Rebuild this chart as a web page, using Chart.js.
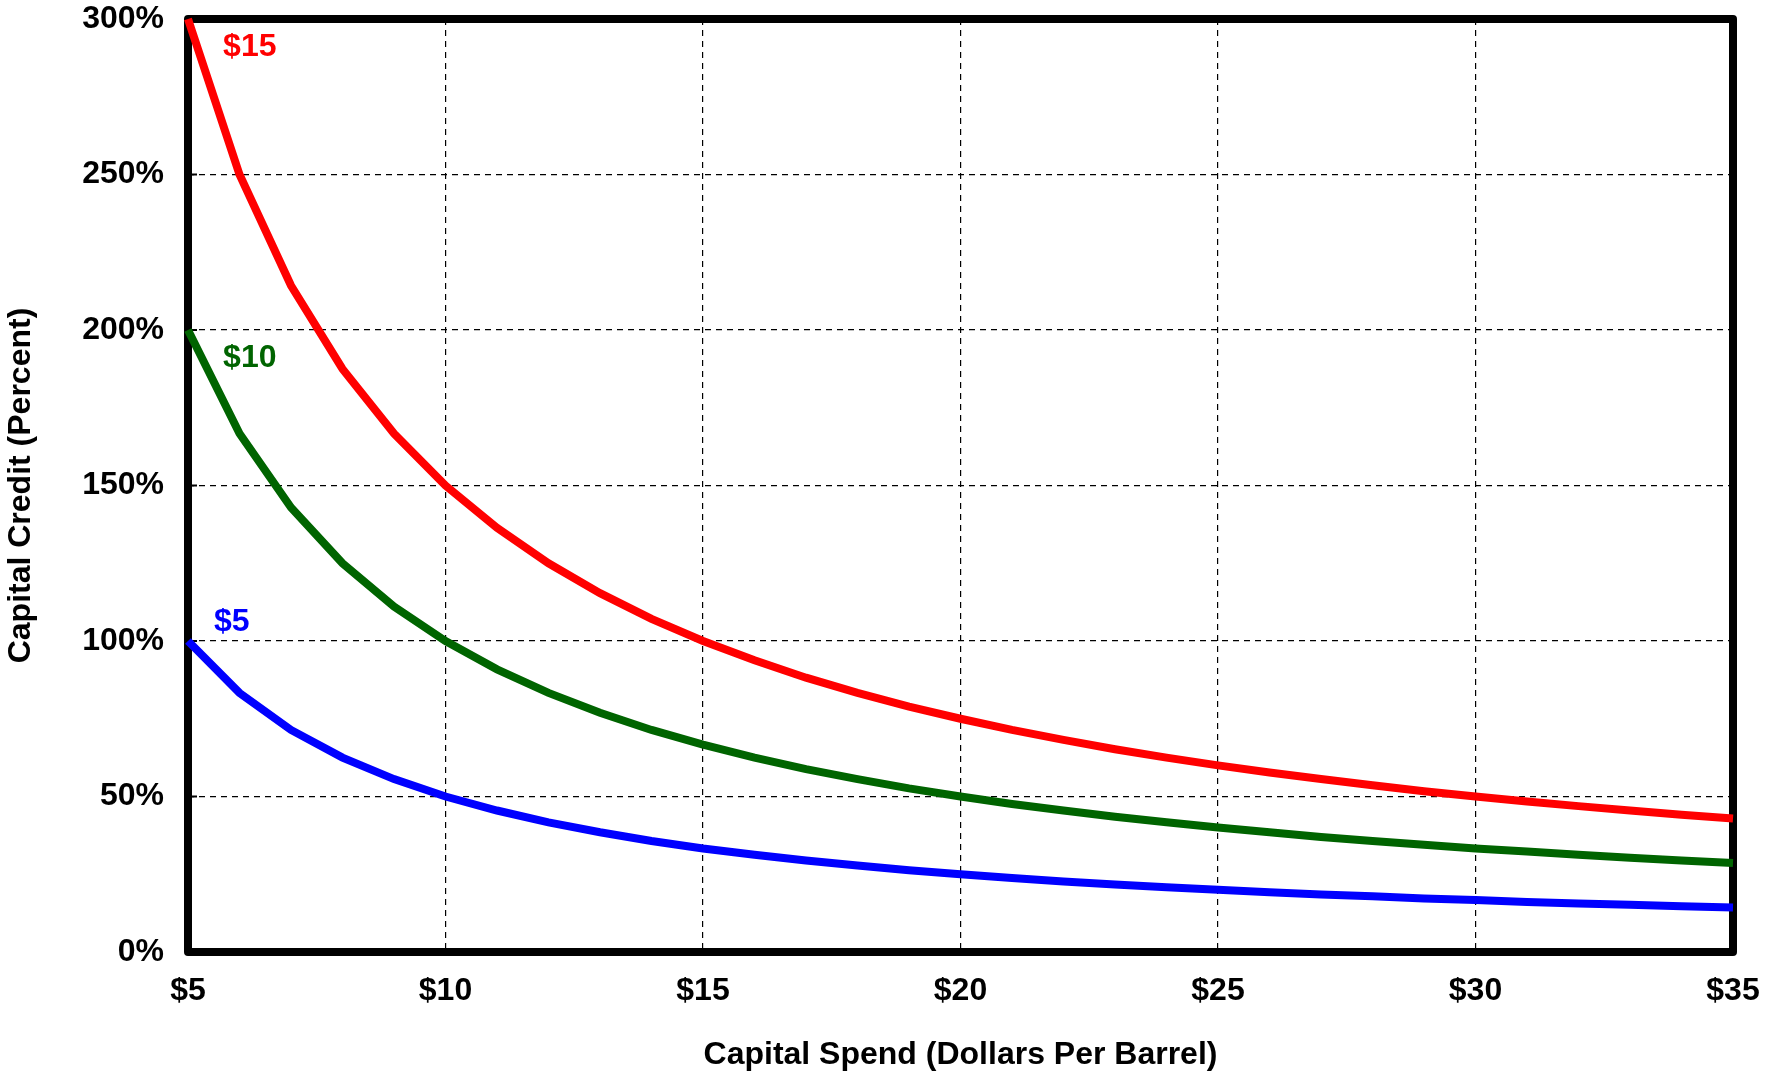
<!DOCTYPE html>
<html>
<head>
<meta charset="utf-8">
<title>Capital Credit vs Capital Spend</title>
<script src="https://cdn.jsdelivr.net/npm/chart.js@4.4.1/dist/chart.umd.min.js"></script>
<style>
  html, body { margin: 0; padding: 0; background: #fff; }
  #wrap { width: 1768px; height: 1074px; }
</style>
</head>
<body>
<div id="wrap"><canvas id="chart" width="1768" height="1074"></canvas></div>
<script>
// Capital spend, dollars per barrel
const SPEND = [5, 6, 7, 8, 9, 10, 11, 12, 13, 14, 15, 16, 17, 18, 19, 20,
  21, 22, 23, 24, 25, 26, 27, 28, 29, 30, 31, 32, 33, 34, 35];

// Capital credit (%) for each credit level
const CREDIT_15 = [300, 250, 214.3, 187.5, 166.7, 150, 136.4, 125, 115.4, 107.1, 100,
  93.8, 88.2, 83.3, 78.9, 75, 71.4, 68.2, 65.2, 62.5, 60, 57.7, 55.6, 53.6, 51.7, 50,
  48.4, 46.9, 45.5, 44.1, 42.9];
const CREDIT_10 = [200, 166.7, 142.9, 125, 111.1, 100, 90.9, 83.3, 76.9, 71.4, 66.7,
  62.5, 58.8, 55.6, 52.6, 50, 47.6, 45.5, 43.5, 41.7, 40, 38.5, 37.0, 35.7, 34.5, 33.3,
  32.3, 31.3, 30.3, 29.4, 28.6];
const CREDIT_5 = [100, 83.3, 71.4, 62.5, 55.6, 50, 45.5, 41.7, 38.5, 35.7, 33.3,
  31.3, 29.4, 27.8, 26.3, 25, 23.8, 22.7, 21.7, 20.8, 20, 19.2, 18.5, 17.9, 17.2, 16.7,
  16.1, 15.6, 15.2, 14.7, 14.3];

const SERIES_NAMES = ["$15", "$10", "$5"];
const SERIES_COLORS = ["#ff0000", "#006400", "#0000ff"];
// where each series name sits, in data units (spend, credit)
const NAME_AT = [[6.2, 291], [6.2, 191], [5.85, 106]];

const FONT = "'Liberation Sans', Arial, Helvetica, sans-serif";

const toPoints = (ys) => SPEND.map((x, i) => ({ x, y: ys[i] }));

// thick frame round the plot area, under the curves
const frame = {
  id: "frame",
  beforeDatasetsDraw(chart) {
    const { ctx, chartArea: a } = chart;
    ctx.save();
    ctx.strokeStyle = "#000";
    ctx.lineWidth = 8;
    ctx.lineJoin = "round";
    ctx.strokeRect(a.left, a.top, a.right - a.left, a.bottom - a.top);
    // short inward ticks on the y axis
    ctx.lineWidth = 2;
    chart.scales.y.ticks.forEach(t => {
      const py = chart.scales.y.getPixelForValue(t.value);
      ctx.beginPath();
      ctx.moveTo(a.left, py);
      ctx.lineTo(a.left + 9, py);
      ctx.stroke();
    });
    ctx.restore();
  },
};

const seriesNames = {
  id: "seriesNames",
  afterDatasetsDraw(chart) {
    const { ctx, scales } = chart;
    ctx.save();
    ctx.font = `bold 32px ${FONT}`;
    ctx.textAlign = "center";
    ctx.textBaseline = "middle";
    SERIES_NAMES.forEach((name, i) => {
      ctx.fillStyle = SERIES_COLORS[i];
      ctx.fillText(name, scales.x.getPixelForValue(NAME_AT[i][0]),
        scales.y.getPixelForValue(NAME_AT[i][1]));
    });
    ctx.restore();
  },
};

const datasets = [CREDIT_15, CREDIT_10, CREDIT_5].map((ys, i) => ({
  label: SERIES_NAMES[i],
  data: toPoints(ys),
  borderColor: SERIES_COLORS[i],
  borderWidth: 8,
  pointRadius: 0,
  tension: 0,
  clip: false,
}));

new Chart(document.getElementById("chart"), {
  type: "line",
  data: { datasets },
  plugins: [frame, seriesNames],
  options: {
    responsive: false,
    animation: false,
    layout: { padding: { top: 19, right: 35, bottom: 0, left: 0 } },
    plugins: { legend: { display: false }, tooltip: { enabled: false } },
    scales: {
      x: {
        type: "linear",
        min: 5,
        max: 35,
        ticks: {
          stepSize: 5,
          padding: 20,
          color: "#000",
          font: { family: FONT, size: 32, weight: "bold" },
          callback: (v) => "$" + v,
        },
        grid: { color: "#000", lineWidth: 1.2, drawTicks: false },
        border: { display: false, dash: [6, 5] },
        title: {
          display: true,
          text: "Capital Spend (Dollars Per Barrel)",
          color: "#000",
          font: { family: FONT, size: 32, weight: "bold" },
          padding: { top: 10, bottom: 0 },
        },
        afterFit: (s) => { s.height = 122; s.paddingLeft = 0; s.paddingRight = 0; },
      },
      y: {
        min: 0,
        max: 300,
        ticks: {
          stepSize: 50,
          padding: 24,
          color: "#000",
          font: { family: FONT, size: 32, weight: "bold" },
          callback: (v) => v + "%",
        },
        grid: { color: "#000", lineWidth: 1.2, drawTicks: false },
        border: { display: false, dash: [6, 5] },
        title: {
          display: true,
          text: "Capital Credit (Percent)",
          color: "#000",
          font: { family: FONT, size: 32, weight: "bold" },
          padding: { top: 2, bottom: 0 },
        },
        afterFit: (s) => { s.width = 188; s.paddingTop = 0; s.paddingBottom = 0; },
      },
    },
  },
});
</script>
</body>
</html>
